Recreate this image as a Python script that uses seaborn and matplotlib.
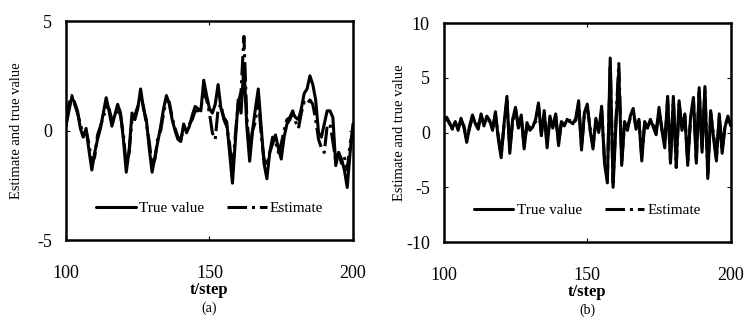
import numpy as np
import pandas as pd
import seaborn as sns
import matplotlib
matplotlib.use("Agg")
import matplotlib.pyplot as plt

sns.set_style("ticks")
plt.rcParams["font.family"] = ["Liberation Serif", "DejaVu Serif"]
plt.rcParams["axes.unicode_minus"] = False
plt.rcParams.update({"axes.edgecolor": "black", "text.color": "black",
                     "axes.labelcolor": "black", "xtick.color": "black",
                     "ytick.color": "black"})

steps = list(range(100, 201))

# (a) smooth case
true_a = [0.2, 0.9, 1.5, 1.3, 0.9, 0.1, -0.3, 0.1, -0.9, -1.8,
          -1.0, -0.4, 0.1, 0.8, 1.5, 0.9, 0.2, 0.7, 1.2, 0.8,
          -0.4, -1.9, -0.9, 0.8, 0.5, 1.0, 1.9, 1.0, 0.5, -0.8,
          -1.9, -1.2, -0.5, 0.2, 1.0, 1.6, 1.2, 0.5, 0.0, -0.4,
          -0.5, 0.3, -0.1, 0.2, 0.7, 1.1, 1.0, 0.9, 2.3, 1.6,
          1.0, 0.8, 1.2, 2.1, 1.0, 0.6, 0.4, -1.0, -2.4, -0.5,
          1.4, 0.8, 3.0, 0.2, -1.4, 0.0, 1.0, 1.9, 0.2, -1.5,
          -2.2, -1.0, -0.6, -0.2, -0.8, -1.3, -0.3, 0.3, 0.5, 0.8,
          0.6, 0.5, 1.0, 1.7, 1.9, 2.5, 2.1, 1.4, -0.1, -0.3,
          0.3, 0.9, 0.9, 0.6, -1.6, -1.0, -1.3, -1.8, -2.6, -1.0,
          0.3]
est_a = [0.5, 1.2, 1.6, 1.2, 0.8, 0.3, -0.2, 0.0, -0.6, -1.5,
         -1.2, -0.2, 0.2, 0.6, 1.1, 1.0, 0.5, 0.6, 1.0, 0.7,
         -0.2, -1.6, -1.0, 0.5, 0.7, 1.1, 1.5, 1.1, 0.3, -0.5,
         -1.6, -1.3, -0.3, 0.0, 0.8, 1.4, 1.3, 0.6, 0.1, -0.3,
         -0.4, 0.1, 0.1, 0.3, 0.5, 0.9, 0.9, 1.0, 1.8, 1.4,
         0.8, -0.1, -0.4, 1.0, 1.2, 0.5, 0.2, -0.6, -1.9, -0.2,
         1.2, 1.8, 4.3, 0.6, -0.9, 0.0, 0.4, 1.6, -0.2, -1.3,
         -1.6, -1.0, -0.3, -0.5, -1.0, -0.6, 0.0, 0.5, 0.6, 0.9,
         0.4, 0.1, 0.8, 1.3, 1.2, 1.4, 1.2, 0.5, -0.4, -0.8,
         -1.0, 0.2, 0.3, -0.5, -1.4, -1.0, -1.5, -1.2, -1.8, -0.6,
         0.0]

# (b) noisy case
true_b = [1.2, 1.3, 0.8, 0.4, 1.0, 0.2, 1.3, 0.5, -0.9, 0.6,
          1.6, 0.8, 0.3, 1.7, 0.6, 1.5, 1.1, 0.2, 1.9, -0.6,
          -2.3, 0.8, 3.3, -1.9, 1.2, 2.3, 0.4, 1.6, -1.5, 0.9,
          0.2, 0.5, 1.2, 2.7, -0.3, 2.0, -1.4, 1.5, 0.4, 1.7,
          -1.2, 1.0, 0.6, 1.2, 1.0, 0.8, 1.3, 2.9, -1.6, 1.8,
          2.6, 0.2, -1.5, 1.3, 0.0, 2.4, -2.8, -4.6, 6.8, -5.0,
          0.8, 5.5, -3.0, 1.0, 0.2, 1.5, 2.2, 0.3, 1.2, -2.6,
          1.0, 0.4, 1.2, 0.5, -0.2, 2.3, 0.2, -1.4, 3.3, -2.8,
          3.3, -3.0, 2.9, 0.2, 1.7, -3.0, 1.4, 3.2, -2.8, 4.1,
          -1.8, 4.2, -4.2, 2.0, -0.5, -2.6, 1.7, -1.9, 0.5, 1.5,
          0.6]
est_b = [1.0, 1.4, 0.9, 0.3, 0.9, 0.4, 1.1, 0.6, -0.6, 0.4,
         1.4, 1.0, 0.5, 1.5, 0.8, 1.3, 1.0, 0.4, 1.6, -0.3,
         -2.0, 0.6, 2.9, -1.5, 1.0, 2.1, 0.6, 1.4, -1.2, 0.7,
         0.4, 0.6, 1.0, 2.4, 0.0, 1.8, -1.1, 1.3, 0.6, 1.5,
         -0.9, 0.9, 0.8, 1.0, 1.1, 0.9, 1.1, 2.6, -1.3, 1.6,
         2.3, 0.4, -1.2, 1.1, 0.3, 2.1, -2.4, -4.2, 6.2, -4.6,
         1.2, 6.3, -2.6, 0.8, 0.5, 1.3, 1.9, 0.5, 1.0, -2.2,
         0.8, 0.6, 1.0, 0.7, 0.1, 2.0, 0.4, -1.0, 3.0, -2.5,
         3.0, -3.2, 2.6, 0.5, 1.5, -2.6, 1.2, 2.9, -2.4, 3.7,
         -1.5, 3.8, -3.8, 1.8, -0.2, -2.3, 1.4, -1.6, 0.7, 1.3,
         0.8]

fig = plt.figure(figsize=(7.56, 3.24), dpi=100)
ax1 = fig.add_axes([0.0873, 0.259, 0.3796, 0.676])
ax2 = fig.add_axes([0.587, 0.253, 0.3796, 0.676])

panels = [(ax1, true_a, est_a, 5, "(a)"), (ax2, true_b, est_b, 10, "(b)")]
for ax, tv, ev, lim, tag in panels:
    sns.lineplot(x=steps, y=tv, ax=ax, color="black", lw=2.2, label="True value")
    sns.lineplot(x=steps, y=ev, ax=ax, color="black", lw=2.2, ls="-.", label="Estimate")
    ax.set_xlim(100, 200)
    ax.set_ylim(-lim, lim)
    ax.set_xticks([100, 150, 200])
    ax.set_yticks(np.arange(-lim, lim + 1, 5))
    ax.tick_params(direction="in", top=True, right=True, length=3,
                   labelsize=13)
    ax.tick_params(axis="x", pad=18)
    ax.tick_params(axis="y", pad=10)
    for s in ax.spines.values():
        s.set_linewidth(1.8)
    ax.set_xlabel("t/step", fontsize=12, fontweight="bold")
    ax.xaxis.set_label_coords(0.5, -0.19)
    ax.text(0.5, -0.31, tag, transform=ax.transAxes, ha="center",
            va="center", fontsize=10)
    ax.set_ylabel("Estimate and true value", fontsize=10.5)
    ax.legend(loc="lower center", ncol=2, frameon=False, fontsize=11,
              handlelength=2.6, columnspacing=1.5, handletextpad=0.2,
              bbox_to_anchor=(0.5, 0.05))

ax1.yaxis.set_label_coords(-0.15, 0.5)
ax2.yaxis.set_label_coords(-0.13, 0.5)

fig.savefig("out.png", dpi=100)
